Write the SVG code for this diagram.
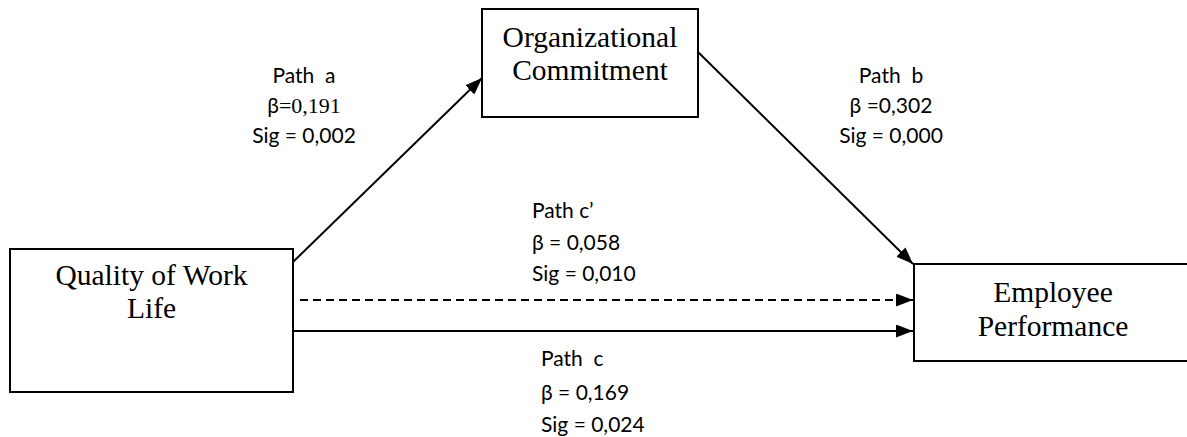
<svg xmlns="http://www.w3.org/2000/svg" width="1187" height="437" viewBox="0 0 1187 437">
<style>
.box{fill:#fff;stroke:#000;stroke-width:2}
.nt{font-family:"Liberation Serif",serif;font-size:29.5px;fill:#000;text-anchor:middle}
.lb{font-family:Lato,"Liberation Sans",sans-serif;font-size:21px;fill:#000}
.ln{stroke:#000;stroke-width:2;fill:none}
</style>
<defs>
<marker id="arr" viewBox="0 0 17 13" refX="17" refY="6.5" markerWidth="17" markerHeight="13" markerUnits="userSpaceOnUse" orient="auto">
<path d="M0,0 L17,6.5 L0,13 Z" fill="#000"/>
</marker>
</defs>
<rect width="1187" height="437" fill="#fff"/>
<g id="connectors">
<line class="ln" x1="293" y1="262" x2="482" y2="78" marker-end="url(#arr)"/>
<line class="ln" x1="698" y1="52" x2="913" y2="264" marker-end="url(#arr)"/>
<line class="ln" x1="300" y1="300" x2="913" y2="300" stroke-dasharray="8,5" marker-end="url(#arr)"/>
<line class="ln" x1="293" y1="331" x2="913" y2="331" marker-end="url(#arr)"/>
</g>
<g id="node-qwl">
<rect class="box" x="10" y="249" width="283" height="143"/>
<text class="nt" x="151.5" y="285">Quality of Work</text>
<text class="nt" x="151.5" y="318">Life</text>
</g>
<g id="node-oc">
<rect class="box" x="482" y="9" width="216" height="108"/>
<text class="nt" x="590" y="47">Organizational</text>
<text class="nt" x="590" y="80">Commitment</text>
</g>
<g id="node-ep">
<rect class="box" x="914" y="264" width="320" height="97"/>
<text class="nt" x="1053" y="302">Employee</text>
<text class="nt" x="1053" y="336">Performance</text>
</g>
<g id="labels">
<g class="lb" text-anchor="middle">
<text x="304" y="83" xml:space="preserve">Path  a</text>
<text x="304" y="113">β<tspan font-family="'Liberation Serif',serif" font-size="22">=0,191</tspan></text>
<text x="304" y="143">Sig = 0,002</text>
<text x="891" y="83" xml:space="preserve">Path  b</text>
<text x="891" y="113">β =0,302</text>
<text x="891" y="143">Sig = 0,000</text>
</g>
<g class="lb">
<text x="532" y="218">Path c’</text>
<text x="532" y="250">β = 0,058</text>
<text x="532" y="281">Sig = 0,010</text>
<text x="541" y="366" xml:space="preserve">Path  c</text>
<text x="541" y="400">β = 0,169</text>
<text x="541" y="432">Sig = 0,024</text>
</g>
</g>
</svg>
